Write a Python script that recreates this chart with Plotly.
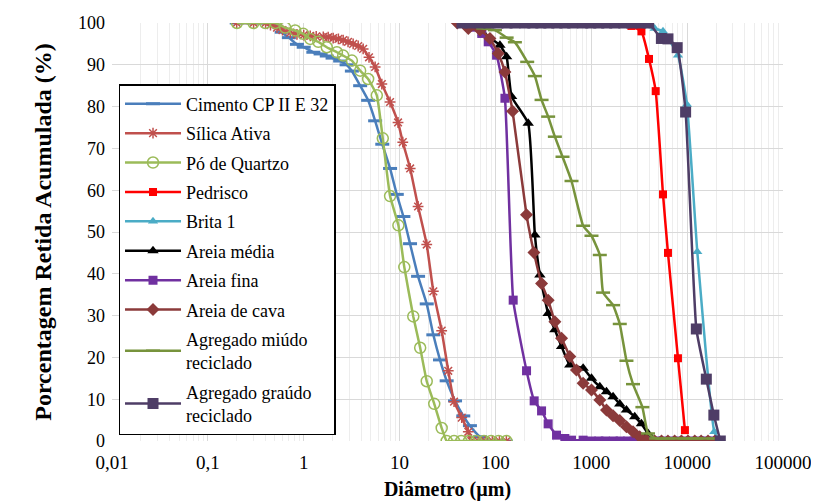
import plotly.graph_objects as go

# ---------------- data ----------------
cim_x = [0.20, 0.30, 0.40, 0.50, 0.59, 0.70, 0.85, 1.0, 1.26, 1.5, 1.74, 2.0, 2.4, 2.8, 3.18, 3.88, 4.7, 5.56,
         6.6, 7.96, 9.35, 10.96, 12.86, 15.6, 19.2, 22.5, 26.4, 31.0, 37.9, 46.2, 54.2, 69.0, 80, 94, 110, 128]
cim_y = [100, 100, 100, 99.5, 97.8, 96.5, 94.9, 94.2, 93.0, 92.6, 92.1, 91.6, 90.9, 90.0, 88.5, 85.0, 81.5, 76.6,
         71.0, 65.2, 59.0, 53.7, 47.2, 39.4, 32.8, 25.4, 19.4, 14.4, 9.6, 6.0, 3.67, 1.0, 0, 0, 0, 0]

sil_x = [0.20, 0.30, 0.40, 0.45, 0.526, 0.6, 0.723, 0.85, 1.0, 1.17, 1.35, 1.6, 1.8, 2.03, 2.3, 2.58, 2.9, 3.28,
         3.7, 4.17, 4.8, 5.56, 6.53, 7.96, 9.64, 10.8, 12.9, 15.6, 19.2, 22.5, 27.5, 32.2, 37.0, 44.5, 52.1,
         56, 66, 78, 93, 110, 130]
sil_y = [100, 100, 100, 99.5, 98.9, 98.3, 97.7, 97.3, 97.1, 96.9, 96.8, 96.7, 96.6, 96.4, 96.2, 95.9, 95.5, 95.0,
         94.5, 93.8, 91.8, 89.5, 85.4, 81.1, 76.2, 71.5, 65.2, 56.1, 47.0, 35.8, 26.4, 16.8, 9.4, 5.6, 2.2,
         0, 0, 0, 0, 0, 0]

qtz_x = [0.201, 0.299, 0.397, 0.505, 0.641, 0.815, 0.989, 1.17, 1.42, 1.74, 2.22, 2.58, 3.18, 3.88, 4.70, 5.79,
         6.68, 7.96, 9.72, 11.2, 13.9, 16.4, 19.2, 23.0, 27.5, 31, 37, 44, 53, 63, 76, 90, 108, 130]
qtz_y = [100, 100, 100, 100, 98.9, 98.2, 97.4, 96.2, 95.5, 94.2, 93.0, 92.2, 91.0, 88.6, 86.6, 82.7,
         72.4, 58.6, 51.6, 41.6, 29.8, 22.3, 14.3, 8.9, 3.1, 0, 0, 0, 0, 0, 0, 0, 0, 0]

ped_x = [1200, 2400, 2623, 3335, 4000, 4700, 5600, 6310, 8020, 9480]
ped_y = [100, 100, 99.3, 98.0, 91.4, 83.7, 59.0, 45.0, 19.8, 2.6]

bri_x = [1200, 2400, 4585, 5600, 8020, 9950, 12760, 19200, 21800]
bri_y = [100, 100, 98.7, 98.0, 92.3, 80.5, 45.3, 2.2, 0]

med_x = [45, 60, 74.6, 111.4, 130.9, 147.5, 219.8, 257.9, 290.9, 354.8, 416.9, 489.8, 597, 822, 1005, 1227,
         1440, 1688, 1982, 2327, 2840, 3335, 3908, 4585]
med_y = [100, 99.0, 97.5, 94.7, 91.9, 82.4, 76.0, 49.3, 39.7, 30.5, 26.6, 22.6, 18.2, 17.4, 15.0, 13.0,
         11.8, 10.6, 8.85, 7.4, 5.8, 4.1, 1.8, 0]

fin_x = [45, 60, 72, 84.1, 102.8, 125.6, 153.2, 211.2, 253.6, 302.9, 354.8, 434, 530, 622, 822, 1000, 1200,
         1400, 1700, 2000, 2400, 2800, 3400, 4000, 4750, 5600, 6700, 8000, 9500, 11200, 13500, 16000, 19000, 21000]
fin_y = [100, 99.0, 97.5, 95.5, 92.3, 82.0, 33.7, 16.8, 9.6, 7.2, 4.1, 1.4, 0.6, 0.2, 0.2, 0, 0,
         0, 0, 0, 0, 0, 0, 0, 0, 0, 0, 0, 0, 0, 0, 0, 0, 0]

cav_x = [40, 52.1, 69.0, 87.7, 107, 125.6, 151, 211, 252, 303, 355, 417, 490, 597, 700, 822, 1005, 1227, 1440,
         1688, 1982, 2327, 2724, 3200, 3758, 4585, 5400, 6300, 7400, 8700, 10200, 12000, 14000, 16500, 19500]
cav_y = [100, 98.7, 98.3, 96.3, 92.7, 88.3, 78.9, 54.1, 45.1, 37.7, 33.7, 28.5, 24.6, 20.2, 17.0, 13.8, 12.2,
         9.8, 7.4, 6.05, 4.9, 3.4, 2.2, 1.0, 0.2, 0, 0, 0, 0, 0, 0, 0, 0, 0, 0]

miu_x = [50, 74.6, 98.8, 130.9, 159.6, 214.5, 257.9, 302.9, 354.8, 416.9, 501, 622, 822, 1005, 1227, 1328,
         1688, 1982, 2327, 2724, 3413, 3908, 4750, 6300, 9500, 12500, 19000]
miu_y = [100, 98.7, 98.3, 96.5, 95.4, 90.7, 87.3, 81.6, 77.6, 72.8, 68.0, 62.2, 51.5, 49.1, 44.5, 35.5,
         32.5, 28.0, 19.2, 13.6, 8.1, 1.8, 0.6, 0.6, 0.6, 0.6, 0.6]

gra_x = [44.8, 54.2, 69.0, 85.6, 106, 132, 160, 203, 246, 298, 361, 437, 530, 641, 815, 988, 1197, 1449,
         1758, 2183, 2642, 3280, 3972, 5385, 6310, 7870, 9640, 12470, 15850, 19000, 22180]
gra_y = [100] * 23 + [96.3, 96.2, 94.1, 78.7, 26.8, 14.8, 6.2, 0]

names = ["Cimento CP II E 32", "Sílica Ativa", "Pó de Quartzo", "Pedrisco", "Brita 1", "Areia média",
         "Areia fina", "Areia de cava", "Agregado miúdo<br>reciclado", "Agregado graúdo<br>reciclado"]

x_tickvals = [0.01, 0.1, 1, 10, 100, 1000, 10000, 100000]
x_ticktext = ["0,01", "0,1", "1", "10", "100", "1000", "10000", "100000"]
y_tickvals = [0, 10, 20, 30, 40, 50, 60, 70, 80, 90, 100]

# ---------------- styles ----------------
series = [
    (cim_x, cim_y, "#4A7EBB", dict(symbol="line-ew-open", size=10, line=dict(color="#4A7EBB", width=3))),
    (sil_x, sil_y, "#C0504D", dict(symbol="asterisk-open", size=9, line=dict(color="#C0504D", width=1.5))),
    (qtz_x, qtz_y, "#9BBB59", dict(symbol="circle-open", size=11, line=dict(color="#9BBB59", width=1.5))),
    (ped_x, ped_y, "#FF0000", dict(symbol="square", size=8, color="#FF0000")),
    (bri_x, bri_y, "#4BACC6", dict(symbol="triangle-up", size=9, color="#4BACC6")),
    (med_x, med_y, "#000000", dict(symbol="triangle-up", size=10, color="#000000")),
    (fin_x, fin_y, "#7030A0", dict(symbol="square", size=9, color="#7030A0")),
    (cav_x, cav_y, "#8B3A3A", dict(symbol="diamond", size=10, color="#8B3A3A")),
    (miu_x, miu_y, "#77933C", dict(symbol="line-ew-open", size=10, line=dict(color="#77933C", width=2.5))),
    (gra_x, gra_y, "#4E3D66", dict(symbol="square", size=11, color="#4E3D66")),
]

fig = go.Figure()
for i, (xs, ys, col, mk) in enumerate(series):
    fig.add_trace(go.Scatter(
        x=xs, y=ys, name=names[i], mode="lines+markers",
        line=dict(color=col, width=2.5, shape="spline", smoothing=0.4),
        marker=mk, legendgroup=f"g{i}",
    ))

font_family = "Liberation Serif, Times New Roman, serif"

# the page body has an 8px default margin, so the figure is 8px smaller and margins are shifted
fig.update_layout(
    width=811, height=493,
    margin=dict(l=103.5, r=35.5, t=15, b=60, autoexpand=False),
    paper_bgcolor="white", plot_bgcolor="white",
    font=dict(family=font_family, size=18, color="#000000"),
    showlegend=True,
    legend=dict(
        x=0.0097, y=0.854, xanchor="left", yanchor="top",
        bgcolor="white", bordercolor="black", borderwidth=1.5,
        font=dict(family=font_family, size=18, color="#000000"),
        tracegroupgap=3, itemwidth=56,
    ),
    xaxis=dict(
        type="log", range=[-2, 5],
        tickvals=x_tickvals, ticktext=x_ticktext,
        showgrid=True, gridcolor="#D9D9D9", gridwidth=1,
        minor=dict(showgrid=True, gridcolor="#EDEDED", gridwidth=1, dtick="D1"),
        zeroline=False, showline=False, ticks="", ticklabelstandoff=8,
        tickfont=dict(family=font_family, size=19),
        title=dict(text="<b>Diâmetro (µm)</b>", font=dict(family=font_family, size=20), standoff=14),
    ),
    yaxis=dict(
        range=[0, 100], tickvals=y_tickvals,
        showgrid=True, gridcolor="#D9D9D9", gridwidth=1,
        zeroline=False, showline=False, ticks="", ticklabelstandoff=6,
        tickfont=dict(family=font_family, size=18),
        title=dict(text="<b>Porcentagem Retida Acumulada (%)</b>", font=dict(family=font_family, size=24),
                   standoff=19),
    ),
)

fig.write_html("out.html")
